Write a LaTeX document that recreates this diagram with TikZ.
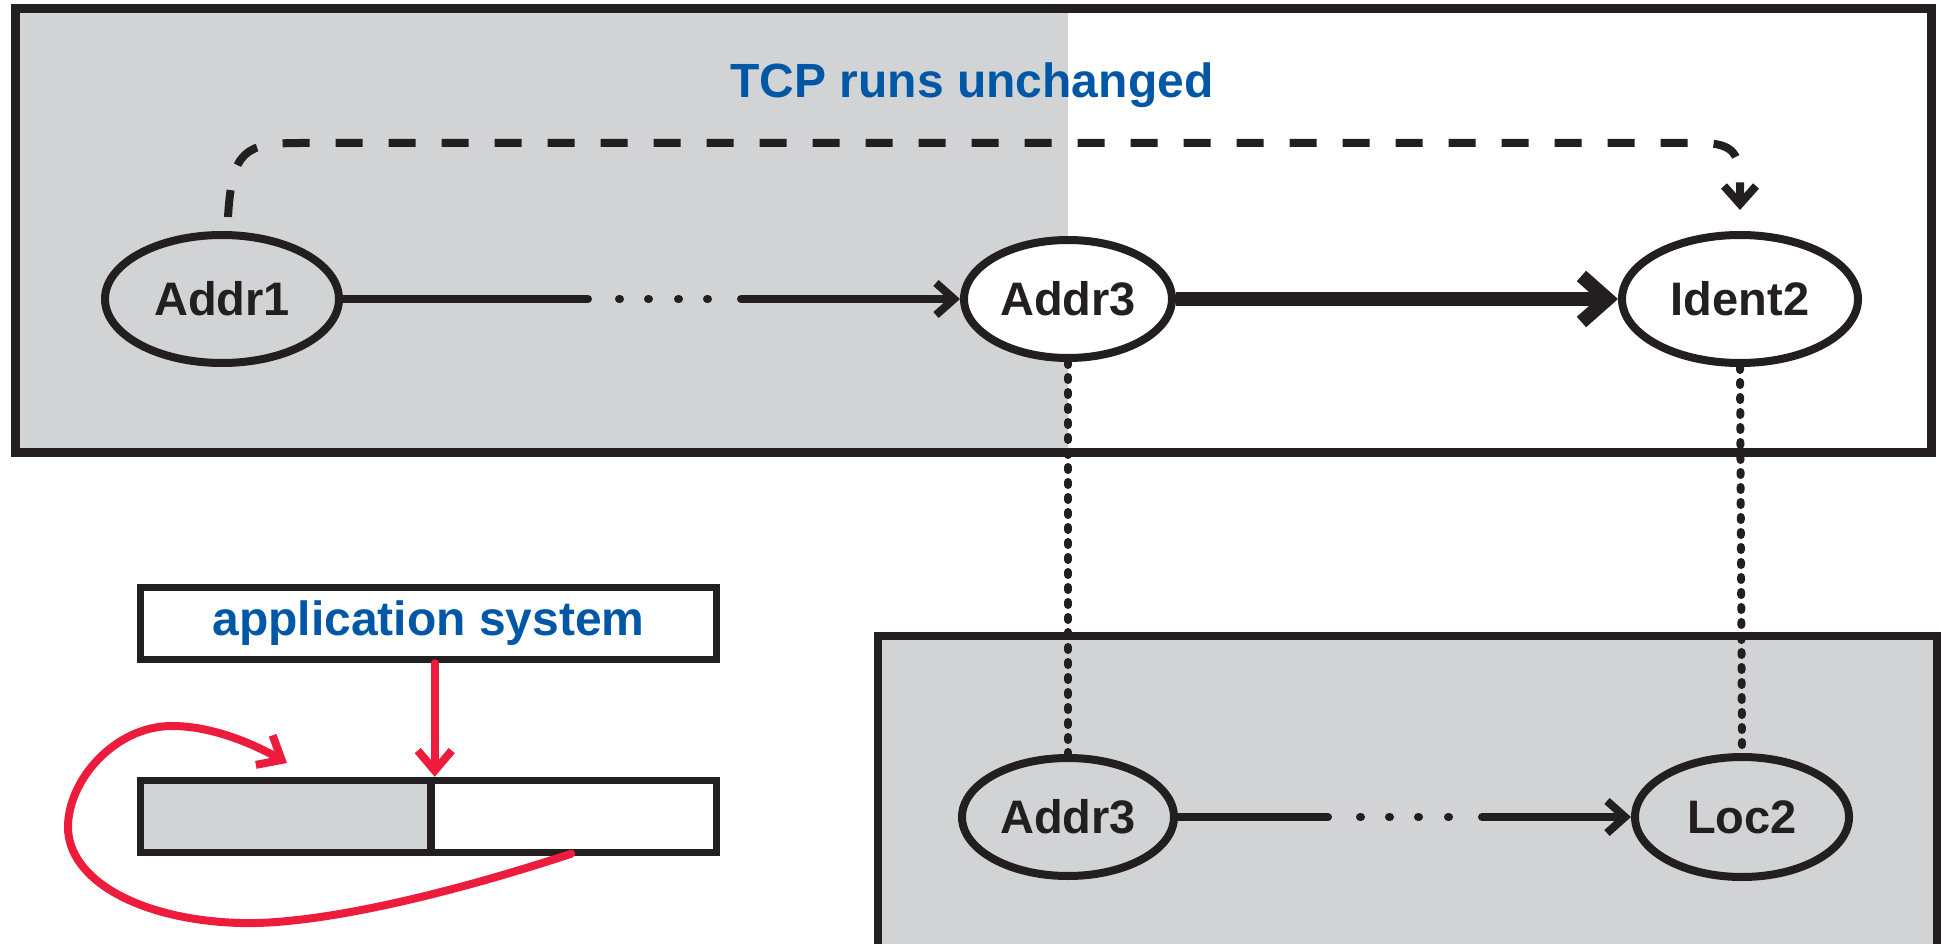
\documentclass[tikz,border=0pt]{standalone}
\usepackage{fontspec}
\setmainfont{Liberation Sans}
\usetikzlibrary{arrows.meta,shapes.geometric}
\definecolor{ink}{HTML}{231F20}
\definecolor{panelgray}{HTML}{D1D3D4}
\definecolor{tcpblue}{HTML}{0057A6}
\definecolor{accent}{HTML}{ED1B3C}
\tikzset{
  idnode/.style={ellipse, draw=ink, line width=8pt, inner sep=0pt,
    font=\bfseries\fontsize{47}{56}\selectfont, text=ink},
  thinarrow/.style={draw=ink, line width=8pt, line cap=round,
    -{Straight Barb[length=18pt,width=32pt,sharp]}},
  thickarrow/.style={draw=ink, line width=14pt,
    -{Straight Barb[length=26pt,width=46pt,sharp]}},
  dotline/.style={draw=ink, line width=8pt, line cap=round, dash pattern=on 3pt off 12pt},
  dashline/.style={draw=ink, line width=8pt, dash pattern=on 27pt off 26pt,
    -{Straight Barb[length=18pt,width=32pt,sharp]}},
  boxline/.style={draw=ink, line width=7.5pt},
  redarrow/.style={draw=accent, line width=8pt, line cap=round,
    -{Straight Barb[length=20pt,width=34pt,sharp]}},
  label/.style={font=\bfseries\fontsize{48}{58}\selectfont, text=tcpblue}
}
\begin{document}
\begin{tikzpicture}[x=1pt,y=-1pt]
\useasboundingbox (0,0) rectangle (1941,944);
% top region
\fill[panelgray] (15,8.5) rectangle (1068,452);
\draw[draw=ink, line width=9pt] (15,8.5) rectangle (1931,452);
% bottom-right region
\draw[boxline, line width=8pt, fill=panelgray] (877.5,636) rectangle (1937,990);

\node[label, anchor=base] (tcp) at (972,98) {TCP runs unchanged};

% identifier nodes
\node[idnode, fill=panelgray, minimum width=234pt, minimum height=128pt] (a1) at (222,299) {Addr1};
\node[idnode, fill=white, minimum width=208pt, minimum height=118pt] (a3) at (1068,299) {Addr3};
\node[idnode, fill=white, minimum width=236pt, minimum height=128pt] (i2) at (1740,299) {Ident2};
\node[idnode, fill=panelgray, minimum width=212pt, minimum height=118pt] (a3b) at (1068,817) {Addr3};
\node[idnode, fill=panelgray, minimum width=214pt, minimum height=120pt] (l2) at (1742,817) {Loc2};

% connectors
\draw[thinarrow, dash pattern=on 245pt off 31pt on 1pt off 28pt on 1pt off 29pt on 1pt off 28pt on 1pt off 33pt on 3000pt]
  (a1.east) -- (a3.west);
\draw[thickarrow] (a3.east) -- (i2.west);
\draw[thinarrow, dash pattern=on 150pt off 32pt on 1pt off 28pt on 1pt off 28pt on 1pt off 29pt on 1pt off 33pt on 3000pt]
  (a3b.east) -- (l2.west);
\draw[dotline] (a3.south) -- (a3b.north);
\draw[dotline] (i2.south) -- (l2.north);
\coordinate (dstart) at ([shift={(6,-14)}]a1.north);
\draw[dashline, shorten >=21pt] (dstart) .. controls (232,150) and (245,143) .. (300,143)
  -- (1700,143) .. controls (1735,143) and (1740,155) .. (1740,185) -- (i2.north);

% application system and buffer
\node[boxline, fill=white, minimum width=576pt, minimum height=72pt, inner sep=0pt,
  label, anchor=center] (app) at (428.5,623.5) {application system};
\node[boxline, fill=panelgray, minimum width=290.5pt, minimum height=72pt, inner sep=0pt] (barL) at (285.75,816.5) {};
\node[boxline, fill=white, minimum width=285.5pt, minimum height=72pt, inner sep=0pt] (barR) at (573.75,816.5) {};
\draw[redarrow] (barL.north east |- app.south) -- (barL.north east);
\coordinate (loopstart) at ([shift={(144,-2.5)}]barR.south west);
\draw[redarrow] (loopstart) .. controls (430,900) and (310,925) .. (240,923)
  .. controls (140,920) and (68,880) .. (68,827)
  .. controls (68,780) and (115,726) .. (172,726)
  .. controls (210,726) and (250,742) .. (287,763);
\end{tikzpicture}
\end{document}
